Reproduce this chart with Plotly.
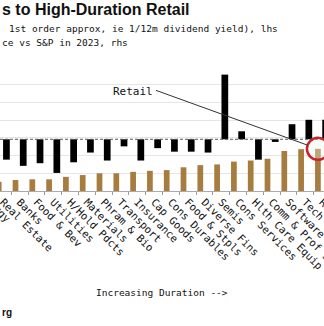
import plotly.graph_objects as go

# ---- data ----
categories = ["Energy", "Real Estate", "Banks", "Food & Bev", "Utilities", "H/Hold Pdcts",
              "Materials", "Phram & Bio", "Transport", "Insurance", "Cap Goods",
              "Cons Durables", "Food & Stpls", "Diverse Fins", "Semis", "Cons Services",
              "Hlth Care Equip", "Comm & Prof Svcs", "Software", "Tech Hardware", "Retail"]
duration_lhs = [25, 26, 31, 33, 33, 40, 45, 50, 50, 54, 57, 59, 67, 73, 75, 83, 86, 91, 113, 118, 119]
perf_vs_spx_rhs = [-25, -23, -30, -27, -38, -26, -15, -24, -8, -24, -10, -14, -14, -15, 73, 9,
                   -23, -3, 17, 22, 22]

title_text = "s to High-Duration Retail"
sub1_text = "1st order approx, ie 1/12m dividend yield), lhs"
sub2_text = "ce vs S&P in 2023, rhs"
xaxis_text = "Increasing Duration -->"
source_text = "rg"
callout_text = "Retail"

W, H = 324, 326
T, B = 67, 135
PH = H - T - B
MONO = "DejaVu Sans Mono"

def py(ypx):
    return (H - B - ypx) / PH

GOLD = "#a67c3f"
fig = go.Figure()
fig.add_trace(go.Bar(x=categories, y=duration_lhs, marker=dict(color=GOLD, line=dict(width=0)),
                     offset=-0.42, width=0.34, yaxis="y", showlegend=False))
fig.add_trace(go.Bar(x=categories, y=perf_vs_spx_rhs, marker=dict(color="#000000", line=dict(width=0)),
                     offset=0.01, width=0.40, yaxis="y2", showlegend=False))

ri = categories.index("Retail")
fig.add_shape(type="line", xref="paper", x0=0, x1=1, yref="y2", y0=0, y1=0,
              line=dict(color="#555555", width=1, dash="3px,2px"), layer="above")
# callout circle on Retail gold bar top
fig.add_shape(type="circle", xref="x", yref="y", xsizemode="pixel", ysizemode="pixel",
              xanchor=ri - 0.25, yanchor=duration_lhs[ri], x0=-11, x1=11, y0=-11, y1=11,
              line=dict(color="#c8242e", width=2.5), fillcolor="rgba(235,245,235,0.35)", layer="above")
fig.add_shape(type="line", xref="x", yref="y", xsizemode="pixel", ysizemode="pixel",
              xanchor=ri - 0.25, yanchor=duration_lhs[ri], x0=-162, y0=58.5, x1=-10.4, y1=3.7,
              line=dict(color="#333333", width=1), layer="above")

ann = [
    dict(text="<b>" + title_text + "</b>", x=0, y=py(10), xanchor="left", yanchor="middle",
         font=dict(family="Liberation Sans", size=16, color="#111")),
    dict(text=sub1_text, x=7 / W, y=py(28), xanchor="left", yanchor="middle",
         font=dict(family=MONO, size=9.5, color="#111")),
    dict(text=sub2_text, x=0, y=py(43), xanchor="left", yanchor="middle",
         font=dict(family=MONO, size=9.5, color="#111")),
    dict(text=xaxis_text, x=162 / W, y=py(292), xanchor="center", yanchor="middle",
         font=dict(family=MONO, size=9.5, color="#111")),
    dict(text="<b>" + source_text + "</b>", x=0, y=py(312), xanchor="left", yanchor="middle",
         font=dict(family="Liberation Sans", size=10, color="#111")),
    dict(text=callout_text, x=133 / W, y=py(91.5), xanchor="center", yanchor="middle",
         font=dict(family=MONO, size=11, color="#111")),
    dict(text=categories[0], x=16 / W, y=py(228), xanchor="right", yanchor="bottom", textangle=45,
         font=dict(family=MONO, size=10.5, color="#111")),
]
for a in ann:
    a.update(xref="paper", yref="paper", showarrow=False)

fig.update_layout(
    template="none", width=W, height=H,
    margin=dict(l=0, r=0, t=T, b=B, pad=0),
    paper_bgcolor="white", plot_bgcolor="white",
    barmode="overlay", annotations=ann,
    xaxis=dict(type="category", categoryorder="array", categoryarray=categories,
               range=[0.827, 20.113], tickangle=45, tickson="boundaries", ticks="outside",
               ticklen=3, tickcolor="#999", showline=True, linecolor="#aaa", linewidth=1,
               showgrid=False, zeroline=False, automargin=False,
               tickfont=dict(family=MONO, size=10.5, color="#111")),
    yaxis=dict(range=[0, 350], dtick=50, showgrid=True, gridcolor="#e6e6e6", gridwidth=1,
               showticklabels=False, zeroline=False, showline=False, ticks="", automargin=False),
    yaxis2=dict(range=[-58.4, 81.6], overlaying="y", side="right", showgrid=False,
                showticklabels=False, zeroline=False, showline=False, ticks="", automargin=False),
)
fig.write_html("out.html")
